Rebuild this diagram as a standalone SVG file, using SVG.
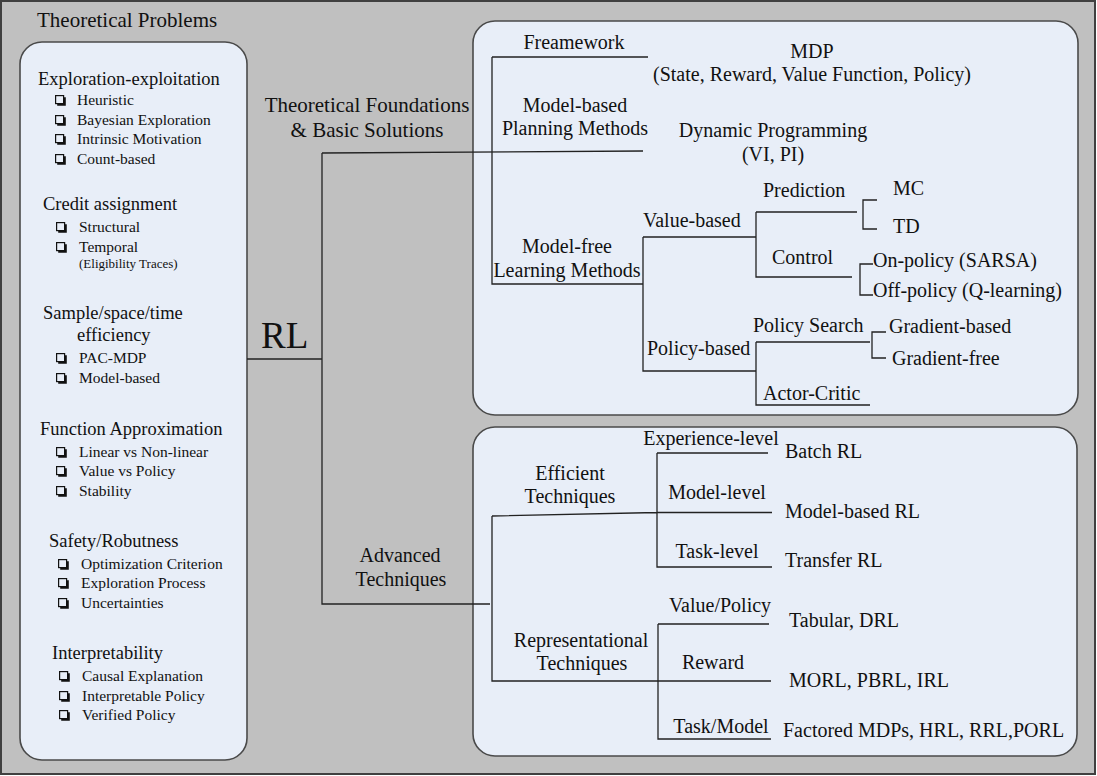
<svg xmlns="http://www.w3.org/2000/svg" width="1097" height="776" viewBox="0 0 1097 776">
<style>
text{font-family:"Liberation Serif","Times New Roman",serif;fill:#111}
.h{font-size:18.5px}
.i{font-size:15.5px}
.s{font-size:13px}
.r{font-size:20px}
.m{text-anchor:middle}
.panel{fill:#E8EEF8;stroke:#4a4a4a;stroke-width:1.6}
.ln{fill:none;stroke:#222;stroke-width:1.3}
</style>
<defs>
<g id="cb">
<rect x="0.6" y="0.6" width="8" height="8" fill="none" stroke="#111" stroke-width="1.2"/>
<path d="M9.8 2.2V9.8H2.2" fill="none" stroke="#111" stroke-width="2"/>
</g>
</defs>
<rect x="1" y="1" width="1094" height="773" fill="#C0C0C0" stroke="#404040" stroke-width="2"/>
<text x="37" y="27" style="font-size:21px">Theoretical Problems</text>

<g id="problems">
<rect class="panel" x="20" y="42" width="227" height="718" rx="22"/>
<text class="h" x="38" y="85">Exploration-exploitation</text>
<use href="#cb" x="55" y="95"/><text class="i" x="77" y="105">Heuristic</text>
<use href="#cb" x="55" y="115"/><text class="i" x="77" y="125">Bayesian Exploration</text>
<use href="#cb" x="55" y="134"/><text class="i" x="77" y="144">Intrinsic Motivation</text>
<use href="#cb" x="55" y="154"/><text class="i" x="77" y="164">Count-based</text>
<text class="h" x="43" y="210">Credit assignment</text>
<use href="#cb" x="56" y="222"/><text class="i" x="79" y="232">Structural</text>
<use href="#cb" x="56" y="242"/><text class="i" x="79" y="252">Temporal</text>
<text class="s" x="79" y="268">(Eligibility Traces)</text>
<text class="h" x="43" y="319">Sample/space/time</text>
<text class="h" x="77" y="341">efficiency</text>
<use href="#cb" x="56" y="353"/><text class="i" x="79" y="363">PAC-MDP</text>
<use href="#cb" x="56" y="373"/><text class="i" x="79" y="383">Model-based</text>
<text class="h" x="40" y="435">Function Approximation</text>
<use href="#cb" x="56" y="447"/><text class="i" x="79" y="457">Linear vs Non-linear</text>
<use href="#cb" x="56" y="466"/><text class="i" x="79" y="476">Value vs Policy</text>
<use href="#cb" x="56" y="486"/><text class="i" x="79" y="496">Stability</text>
<text class="h" x="49" y="547">Safety/Robutness</text>
<use href="#cb" x="58" y="559"/><text class="i" x="81" y="569">Optimization Criterion</text>
<use href="#cb" x="58" y="578"/><text class="i" x="81" y="588">Exploration Process</text>
<use href="#cb" x="58" y="598"/><text class="i" x="81" y="608">Uncertainties</text>
<text class="h" x="52" y="659">Interpretability</text>
<use href="#cb" x="59" y="671"/><text class="i" x="82" y="681">Causal Explanation</text>
<use href="#cb" x="59" y="691"/><text class="i" x="82" y="701">Interpretable Policy</text>
<use href="#cb" x="59" y="710"/><text class="i" x="82" y="720">Verified Policy</text>
</g>

<g id="panel-foundations">
<rect class="panel" x="473" y="21" width="605" height="394" rx="22"/>
</g>
<g id="panel-advanced">
<rect class="panel" x="473" y="427" width="604" height="329" rx="22"/>
</g>

<g id="connectors">
<path class="ln" d="M247 359H322M322 153V604H490M322 153L643 151"/>
<path class="ln" d="M492 57H648M492 57V284H643"/>
<path class="ln" d="M643 237H756M643 237V371H756M756 212V277H852M756 212H857"/>
<path class="ln" d="M877 200H863V229H877M873 264H860V295H873"/>
<path class="ln" d="M756 342H870M756 342V405H870M886 332H872V358H886"/>
<path class="ln" d="M492 516L657 512.5H772M492 516V681H771M657 453H768M657 453V567H772"/>
<path class="ln" d="M658 624H769M658 624V739H771"/>
</g>

<g id="rl"><text x="261" y="348" style="font-size:37px">RL</text></g>
<g id="foundations-label">
<text class="m" x="367" y="112" style="font-size:21px">Theoretical Foundations</text>
<text class="m" x="367" y="137" style="font-size:21px">&amp; Basic Solutions</text>
</g>
<g id="advanced-label">
<text class="m r" x="400" y="562">Advanced</text>
<text class="m r" x="401" y="586">Techniques</text>
</g>

<g id="framework">
<text class="r m" x="574" y="49">Freamework</text>
<text class="r m" x="812" y="58">MDP</text>
<text class="r m" x="812" y="81">(State, Reward, Value Function, Policy)</text>
</g>
<g id="planning">
<text class="r m" x="575" y="112">Model-based</text>
<text class="r m" x="575" y="135">Planning Methods</text>
<text class="r m" x="773" y="137">Dynamic Programming</text>
<text class="r m" x="773" y="161">(VI, PI)</text>
</g>
<g id="modelfree">
<text class="r m" x="567" y="253">Model-free</text>
<text class="r m" x="567" y="277">Learning Methods</text>
</g>
<g id="valuebased">
<text class="r" x="643" y="227">Value-based</text>
<text class="r" x="763" y="197">Prediction</text>
<text class="r" x="893" y="195">MC</text>
<text class="r" x="893" y="233">TD</text>
<text class="r" x="772" y="264">Control</text>
<text class="r" x="873" y="267">On-policy (SARSA)</text>
<text class="r" x="873" y="297">Off-policy (Q-learning)</text>
</g>
<g id="policybased">
<text class="r" x="647" y="355">Policy-based</text>
<text class="r" x="753" y="332">Policy Search</text>
<text class="r" x="889" y="333">Gradient-based</text>
<text class="r" x="892" y="365">Gradient-free</text>
<text class="r" x="763" y="400">Actor-Critic</text>
</g>

<g id="efficient">
<text class="r m" x="570" y="480">Efficient</text>
<text class="r m" x="570" y="503">Techniques</text>
<text class="r m" x="711" y="445">Experience-level</text>
<text class="r" x="785" y="458">Batch RL</text>
<text class="r m" x="717" y="499">Model-level</text>
<text class="r" x="785" y="518">Model-based RL</text>
<text class="r m" x="717" y="558">Task-level</text>
<text class="r" x="785" y="567">Transfer RL</text>
</g>
<g id="representational">
<text class="r m" x="581" y="647">Representational</text>
<text class="r m" x="582" y="670">Techniques</text>
<text class="r m" x="720" y="612">Value/Policy</text>
<text class="r" x="789" y="627">Tabular, DRL</text>
<text class="r m" x="713" y="669">Reward</text>
<text class="r" x="789" y="687">MORL, PBRL, IRL</text>
<text class="r m" x="721" y="733">Task/Model</text>
<text class="r" x="783" y="737">Factored MDPs, HRL, RRL,PORL</text>
</g>
</svg>
